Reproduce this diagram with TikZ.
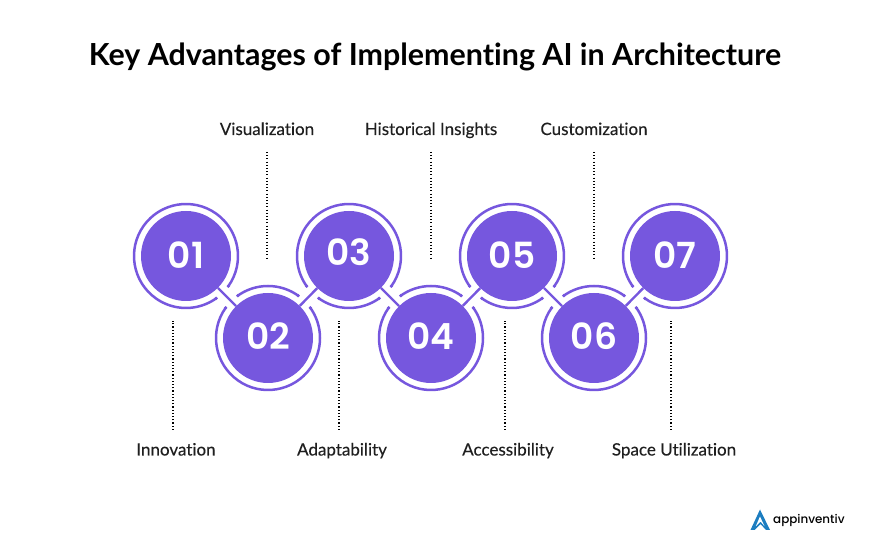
\documentclass[tikz,border=0pt]{standalone}
\usepackage{fontspec}
\setmainfont[Ligatures=NoCommon]{Lato}
\newfontfamily\tagfont[Ligatures=NoCommon, FakeBold=0.25]{Lato}
\newfontfamily\numfont{Poppins SemiBold}
\newfontfamily\logofont{Poppins Medium}
\definecolor{discviolet}{RGB}{118,87,222}
\definecolor{logoblue}{RGB}{28,125,192}
\tikzset{
  disc/.style={circle, inner sep=0pt, minimum size=90pt, fill=discviolet, text=white, font=\numfont\fontsize{36}{36}\selectfont},
  ring/.style={draw=discviolet, line width=2.5pt, line cap=round},
  linkbar/.style={draw=discviolet, line width=2.4pt},
  leader/.style={draw=black, line width=1.1pt, dash pattern=on 1.1pt off 2.1pt},
  tag/.style={font=\tagfont\fontsize{17}{18}\selectfont, text=black!88, anchor=base}
}
\begin{document}
\begin{tikzpicture}[x=1pt, y=1pt]
        \useasboundingbox (0, 0) rectangle (871, 551);

        \node[font=\fontsize{30.4}{32}\selectfont\bfseries] (title) at (435, 494) {Key Advantages of Implementing AI in Architecture};

        \draw (186, 295) node[disc] (D1) {\raisebox{1pt}{01}};
        \draw (268, 213) node[disc] (D2) {\raisebox{3pt}{02}};
        \draw (349, 295) node[disc] (D3) {\raisebox{7pt}{03}};
        \draw (431, 213) node[disc] (D4) {\raisebox{3pt}{04}};
        \draw (512, 295) node[disc] (D5) {\raisebox{1pt}{05}};
        \draw (594, 213) node[disc] (D6) {\raisebox{3pt}{06}};
        \draw (675, 295) node[disc] (D7) {\raisebox{1pt}{07}};

        \foreach \a/\b in {1/2, 2/3, 3/4, 4/5, 5/6, 6/7}
            \draw[linkbar] (D\a) -- (D\b);

        % rings stop short of each link
        \draw[ring] (D1) ++(-35.5:52) arc[start angle=-35.5, end angle=305.5, radius=52];
        \draw[ring] (D7) ++(234.5:52) arc[start angle=234.5, end angle=575.5, radius=52];
        \foreach \n in {2, 4, 6} {
            \draw[ring] (D\n) ++(54.5:52) arc[start angle=54.5, end angle=125.5, radius=52];
            \draw[ring] (D\n) ++(144.5:52) arc[start angle=144.5, end angle=395.5, radius=52];
        }
        \foreach \n in {3, 5} {
            \draw[ring] (D\n) ++(-35.5:52) arc[start angle=-35.5, end angle=215.5, radius=52];
            \draw[ring] (D\n) ++(234.5:52) arc[start angle=234.5, end angle=305.5, radius=52];
        }

        % little knobs on the ring ends
        \foreach \n/\ang in {1/-35.5, 1/-54.5, 7/215.5, 7/234.5, 2/54.5, 2/35.5, 2/125.5, 2/144.5, 4/54.5, 4/35.5, 4/125.5, 4/144.5, 6/54.5, 6/35.5, 6/125.5, 6/144.5, 3/-35.5, 3/-54.5, 3/215.5, 3/234.5, 5/-35.5, 5/-54.5, 5/215.5, 5/234.5}
            \fill[discviolet] (D\n) ++(\ang:52) circle[radius=1.8];

        \node[tag] (L2) at (267, 416) {Visualization};
        \node[tag] (L4) at (431, 416) {Historical Insights};
        \node[tag] (L6) at (594, 416) {Customization};
        \node[tag] (L1) at (176, 95.5) {Innovation};
        \node[tag] (L3) at (342, 95.5) {Adaptability};
        \node[tag] (L5) at (508, 95.5) {Accessibility};
        \node[tag] (L7) at (674, 95.5) {Space Utilization};

        \coordinate (E2) at (267, 291);
        \coordinate (E4) at (431, 291);
        \coordinate (E6) at (594, 291);
        \coordinate (E1) at (173, 230);
        \coordinate (E3) at (339, 230);
        \coordinate (E5) at (505, 230);
        \coordinate (E7) at (671, 230);

        \foreach \n in {2, 4, 6}
            \draw[leader] (L\n |- 0, 399) -- (E\n);
        \foreach \n in {1, 3, 5, 7}
            \draw[leader] (E\n |- 0, 121) -- (E\n);

        % logo
        \fill[logoblue] (760, 41.5) -- (770, 21) -- (766, 21) -- (760.5, 27) -- (754.5, 21) -- (750.5, 21) -- cycle;
        \fill[white] (760, 34.5) -- (764.5, 24.8) -- (760.5, 29.5) -- (755.8, 24.8) -- cycle;
        \node[font=\logofont\fontsize{11.9}{14}\selectfont, anchor=west, inner sep=0pt] (logo) at (773, 31) {appinventiv};
\end{tikzpicture}
\end{document}
